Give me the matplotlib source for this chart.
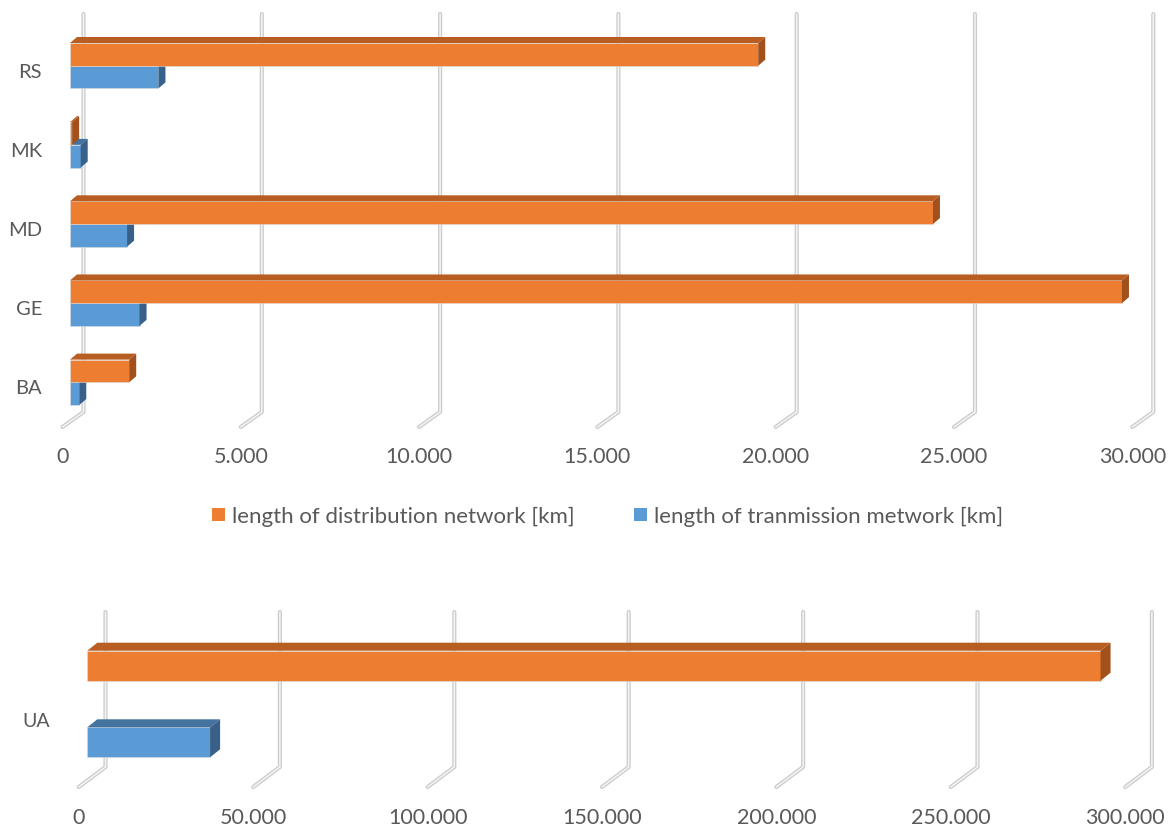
import matplotlib.pyplot as plt
from matplotlib.patches import Polygon, Patch

plt.rcParams['font.family'] = ['Lato', 'DejaVu Sans']

# data
countries = ['RS', 'MK', 'MD', 'GE', 'BA']
distribution_km = [19300, 60, 24200, 29500, 1660]
transmission_km = [2480, 300, 1600, 1950, 260]
top_ticks = [0, 5000, 10000, 15000, 20000, 25000, 30000]
top_tick_labels = ['0', '5.000', '10.000', '15.000', '20.000', '25.000', '30.000']

ua_label = 'UA'
ua_distribution_km = 290500
ua_transmission_km = 35200
bottom_ticks = [0, 50000, 100000, 150000, 200000, 250000, 300000]
bottom_tick_labels = ['0', '50.000', '100.000', '150.000', '200.000', '250.000', '300.000']

legend_labels = ['length of distribution network [km]',
                 'length of tranmission metwork [km]']

ORANGE = '#ED7D31'
ORANGE_TOP = '#B95E23'
ORANGE_SIDE = '#A3511C'
BLUE = '#5B9BD5'
BLUE_TOP = '#44739F'
BLUE_SIDE = '#386089'
TEXT = '#595959'

W, H = 1169, 829
fig = plt.figure(figsize=(W / 100, H / 100), dpi=100)


def make_axes(py0, py1):
    ax = fig.add_axes([0, 1 - py1 / H, 1, (py1 - py0) / H])
    ax.axis('off')
    return ax


def bar3d(ax, y, value, height, dx, dy, front, top, side):
    # front face through barh, top and side faces as polygons
    ax.barh(y, value, height=height, color=front, edgecolor='#dcdcdc',
            linewidth=0.4, zorder=3)
    t = y - height / 2
    b = y + height / 2
    ax.add_patch(Polygon([(0, t), (value, t), (value + dx, t + dy), (dx, t + dy)],
                         closed=True, facecolor=top, edgecolor='none', zorder=3))
    ax.add_patch(Polygon([(value, t), (value, b), (value + dx, b + dy), (value + dx, t + dy)],
                         closed=True, facecolor=side, edgecolor='none', zorder=3))


def wall_line(ax, x_back, x_front, y_top, y_mid, y_bot):
    xs = [x_back, x_back, x_front]
    ys = [y_top, y_mid, y_bot]
    ax.plot(xs, ys, color='#cdcdcd', lw=3, solid_capstyle='round', zorder=1)
    ax.plot(xs, ys, color='#f4f4f4', lw=1.1, solid_capstyle='round', zorder=1)


# ---------- top panel ----------
ax = make_axes(0, 470)
kx = 178.3 / 5000          # px per km
ky = 79.15                 # px per category
y0 = 66.7                  # pixel of first category
ax.set_xlim(-70 / kx, (W - 70) / kx)
ax.set_ylim((470 - y0) / ky, -y0 / ky)


def py(p):
    return (p - y0) / ky


for v in top_ticks:
    wall_line(ax, v + 13.5 / kx, v - 7.5 / kx, py(15), py(413), py(428))

h = 22.7 / ky
for i, c in enumerate(countries):
    bar3d(ax, i + h / 2, transmission_km[i], h, 7 / kx, -6 / ky, BLUE, BLUE_TOP, BLUE_SIDE)
    bar3d(ax, i - h / 2, distribution_km[i], h, 7 / kx, -6 / ky, ORANGE, ORANGE_TOP, ORANGE_SIDE)
    ax.text(-28 / kx, i + 5.5 / ky, c, ha='right', va='center', fontsize=14.5, color=TEXT)

for v, lab in zip(top_ticks, top_tick_labels):
    ax.text(v - 7.5 / kx, py(457), lab, ha='center', va='center', fontsize=15.5, color=TEXT)

# ---------- bottom panel ----------
ax2 = make_axes(590, H)
kx2 = 174.4 / 50000
yc = 705
ax2.set_xlim(-87.3 / kx2, (W - 87.3) / kx2)
ax2.set_ylim((H - yc) / 100, (590 - yc) / 100)


def py2(p):
    return (p - yc) / 100


for v in bottom_ticks:
    wall_line(ax2, v + 18.2 / kx2, v - 8.5 / kx2, py2(613), py2(768), py2(788))

bar3d(ax2, 0.383, ua_transmission_km, 0.30, 10 / kx2, -0.08, BLUE, BLUE_TOP, BLUE_SIDE)
bar3d(ax2, -0.383, ua_distribution_km, 0.30, 10 / kx2, -0.08, ORANGE, ORANGE_TOP, ORANGE_SIDE)
ax2.text(-37.3 / kx2, py2(722), ua_label, ha='right', va='center', fontsize=14, color=TEXT)

for v, lab in zip(bottom_ticks, bottom_tick_labels):
    ax2.text(v - 8.5 / kx2, py2(818), lab, ha='center', va='center', fontsize=15.5, color=TEXT)

# ---------- legend ----------
handles = [Patch(facecolor=ORANGE), Patch(facecolor=BLUE)]
leg = fig.legend(handles, legend_labels, ncol=2, loc='center',
                 bbox_to_anchor=(607.5 / W, 1 - 517 / H), frameon=False,
                 fontsize=16, handlelength=0.57, handleheight=0.5,
                 handletextpad=0.32, columnspacing=2.7)
for t in leg.get_texts():
    t.set_color(TEXT)

fig.savefig('out.png', dpi=100)
